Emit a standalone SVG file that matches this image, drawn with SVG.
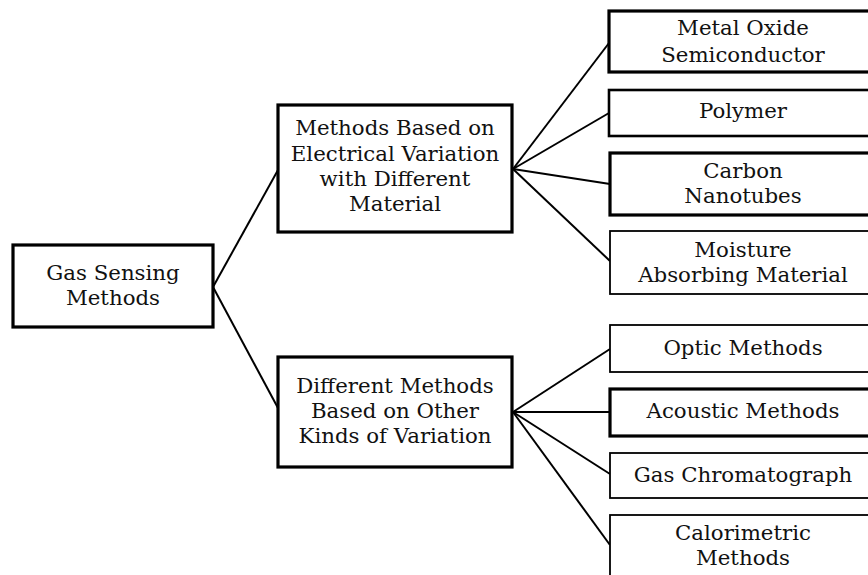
<svg xmlns="http://www.w3.org/2000/svg" width="868" height="575" viewBox="0 0 868 575">
<style>
.box{fill:#fff;stroke:#000;}
.thick{stroke-width:3.2;}
.med{stroke-width:2.6;}
.thin{stroke-width:1.8;}
.lbl{font-family:"DejaVu Serif","Liberation Serif",serif;font-size:21.3px;fill:#111;text-anchor:middle;}
.conn line{stroke:#000;stroke-width:2;}
</style>
<rect width="868" height="575" fill="#fff"/>
<g id="connectors" class="conn">
<line x1="213" y1="287" x2="278" y2="170"/>
<line x1="213" y1="287" x2="278" y2="408"/>
<line x1="513" y1="169" x2="609" y2="43"/>
<line x1="513" y1="169" x2="609" y2="113"/>
<line x1="513" y1="169" x2="610" y2="184"/>
<line x1="513" y1="169" x2="610" y2="261"/>
<line x1="513" y1="412" x2="610" y2="349"/>
<line x1="513" y1="412" x2="610" y2="412"/>
<line x1="513" y1="412" x2="610" y2="474"/>
<line x1="513" y1="412" x2="610" y2="545"/>
</g>
<g id="gas-sensing">
<rect class="box thick" x="13" y="245" width="200" height="82"/>
<text class="lbl" x="113" y="280">Gas Sensing</text>
<text class="lbl" x="113" y="305">Methods</text>
</g>
<g id="electrical">
<rect class="box thick" x="278" y="105" width="234" height="127"/>
<text class="lbl" x="395" y="135">Methods Based on</text>
<text class="lbl" x="395" y="161">Electrical Variation</text>
<text class="lbl" x="395" y="186">with Different</text>
<text class="lbl" x="395" y="211">Material</text>
</g>
<g id="other">
<rect class="box thick" x="278" y="357" width="234" height="110"/>
<text class="lbl" x="395" y="393">Different Methods</text>
<text class="lbl" x="395" y="418">Based on Other</text>
<text class="lbl" x="395" y="443">Kinds of Variation</text>
</g>
<g id="metal-oxide">
<rect class="box thick" x="609" y="11" width="270" height="61"/>
<text class="lbl" x="743" y="35">Metal Oxide</text>
<text class="lbl" x="743" y="62">Semiconductor</text>
</g>
<g id="polymer">
<rect class="box med" x="609" y="90" width="270" height="46"/>
<text class="lbl" x="743" y="118">Polymer</text>
</g>
<g id="carbon">
<rect class="box thick" x="610" y="153" width="270" height="62"/>
<text class="lbl" x="743" y="178">Carbon</text>
<text class="lbl" x="743" y="203">Nanotubes</text>
</g>
<g id="moisture">
<rect class="box thin" x="610" y="231" width="270" height="63"/>
<text class="lbl" x="743" y="257">Moisture</text>
<text class="lbl" x="743" y="282">Absorbing Material</text>
</g>
<g id="optic">
<rect class="box thin" x="610" y="325" width="270" height="47"/>
<text class="lbl" x="743" y="355">Optic Methods</text>
</g>
<g id="acoustic">
<rect class="box thick" x="610" y="389" width="270" height="47"/>
<text class="lbl" x="743" y="418">Acoustic Methods</text>
</g>
<g id="gas-chromatograph">
<rect class="box thin" x="610" y="453" width="270" height="45"/>
<text class="lbl" x="743" y="482">Gas Chromatograph</text>
</g>
<g id="calorimetric">
<rect class="box thin" x="610" y="515" width="270" height="70"/>
<text class="lbl" x="743" y="540">Calorimetric</text>
<text class="lbl" x="743" y="565">Methods</text>
</g>
</svg>
